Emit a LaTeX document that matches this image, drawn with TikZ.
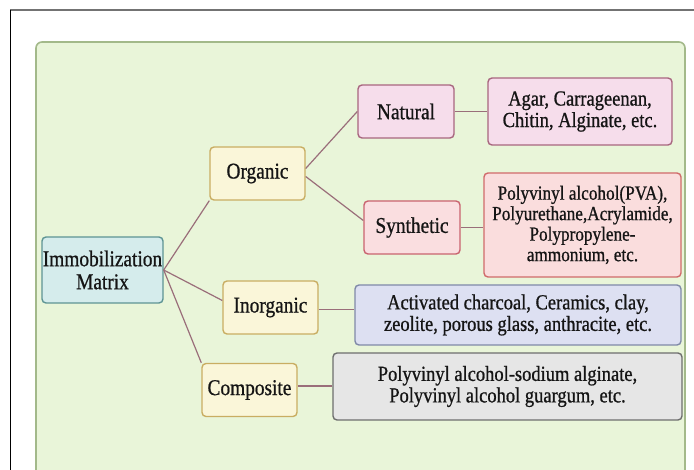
\documentclass[tikz,border=0pt]{standalone}
\usepackage{fontspec}
\setmainfont{Liberation Serif}[FakeStretch=0.86, FakeBold=0.8]
\usetikzlibrary{calc}

\definecolor{panelfill}{HTML}{E9F5D9}
\definecolor{paneldraw}{HTML}{A3B98A}
\definecolor{rootfill}{HTML}{D5ECEC}
\definecolor{rootdraw}{HTML}{5E9494}
\definecolor{catfill}{HTML}{FAF6D9}
\definecolor{catdraw}{HTML}{C9AD62}
\definecolor{natfill}{HTML}{F6DDEB}
\definecolor{natdraw}{HTML}{A8667F}
\definecolor{synfill}{HTML}{FADEE0}
\definecolor{syndraw}{HTML}{C9636F}
\definecolor{pvafill}{HTML}{FADDDD}
\definecolor{pvadraw}{HTML}{D06A6A}
\definecolor{inofill}{HTML}{DDE0F2}
\definecolor{inodraw}{HTML}{8089A8}
\definecolor{cmpfill}{HTML}{E6E6E6}
\definecolor{cmpdraw}{HTML}{6E6E6E}
\definecolor{linkcol}{HTML}{9A6E7A}
\definecolor{inkcol}{HTML}{151515}

\tikzset{
  box/.style={rectangle, rounded corners=4pt, line width=1.4pt, inner sep=0pt,
    align=center, text=inkcol, font=\fontsize{21.5}{21.5}\selectfont},
  cat/.style={box, fill=catfill, draw=catdraw, minimum width=95pt, minimum height=53pt,
    font=\fontsize{22.5}{22.5}\selectfont},
  link/.style={draw=linkcol, line width=1.2pt},
}

\begin{document}
\begin{tikzpicture}[x=1pt, y=-1pt]
  \useasboundingbox (0,0) rectangle (694,470);
  \clip (0,0) rectangle (694,470);
  \fill[white] (0,0) rectangle (694,470);

  % outer frame: top and left rules only
  \draw[color=black!55, line width=1.5pt] (10,10) -- (694,10);
  \draw[color=black, line width=1.5pt] (10.5,10) -- (10.5,470);

  % green panel
  \draw[fill=panelfill, draw=paneldraw, line width=1.6pt, rounded corners=6pt]
    (36,42) rectangle (685,500);

  % root
  \node[box, fill=rootfill, draw=rootdraw, minimum width=121pt, minimum height=66pt,
        font=\fontsize{22.5}{23}\selectfont]
    (imm) at (102.5,270) {Immobilization\\Matrix};

  % categories
  \node[cat] (org)   at (257.5,173.5) {Organic};
  \node[cat] (inorg) at (270.5,307.5) {Inorganic};
  \node[cat] (comp)  at (249.5,390)   {Composite};

  % organic subtypes
  \node[box, fill=natfill, draw=natdraw, minimum width=96pt, minimum height=53pt,
        font=\fontsize{22.5}{22.5}\selectfont]
    (nat) at (406,111.5) {Natural};
  \node[box, fill=synfill, draw=syndraw, minimum width=96pt, minimum height=53pt,
        font=\fontsize{22.5}{22.5}\selectfont]
    (syn) at (412,227.5) {Synthetic};

  % examples
  \node[box, fill=natfill, draw=natdraw, minimum width=184pt, minimum height=67pt]
    (agar) at (580,111.5) {Agar, Carrageenan,\\Chitin, Alginate, etc.};
  \node[box, fill=pvafill, draw=pvadraw, minimum width=197pt, minimum height=104pt,
        font=\fontsize{20}{20.5}\selectfont]
    (pva) at (582.5,225) {Polyvinyl alcohol(PVA),\\Polyurethane,Acrylamide,\\Polypropylene-\\ammonium, etc.};
  \node[box, fill=inofill, draw=inodraw, minimum width=326pt, minimum height=60pt]
    (act) at (518,315) {Activated charcoal, Ceramics, clay,\\zeolite, porous glass, anthracite, etc.};
  \node[box, fill=cmpfill, draw=cmpdraw, minimum width=349pt, minimum height=67pt]
    (pvsa) at (507.5,386.5) {Polyvinyl alcohol-sodium alginate,\\Polyvinyl alcohol guargum, etc.};

  % branches
  \draw[link] (imm.east) -- (org.south west);
  \draw[link] (imm.east) -- ([yshift=7pt]inorg.west);
  \draw[link] (imm.east) -- (comp.north west);
  \draw[link] ([yshift=5pt]org.east) -- (nat.west);
  \draw[link] ([yshift=-3pt]org.east) -- ([yshift=7pt]syn.west);
  \draw[link] (nat.east) -- (agar.west);
  \draw[link] (syn.east) -- (syn.east -| pva.west);
  \draw[link] ([yshift=-2pt]inorg.east) -- ([yshift=-2pt]inorg.east -| act.west);
  \draw[link] ([yshift=4pt]comp.east) -- ([yshift=4pt]comp.east -| pvsa.west);
\end{tikzpicture}
\end{document}
